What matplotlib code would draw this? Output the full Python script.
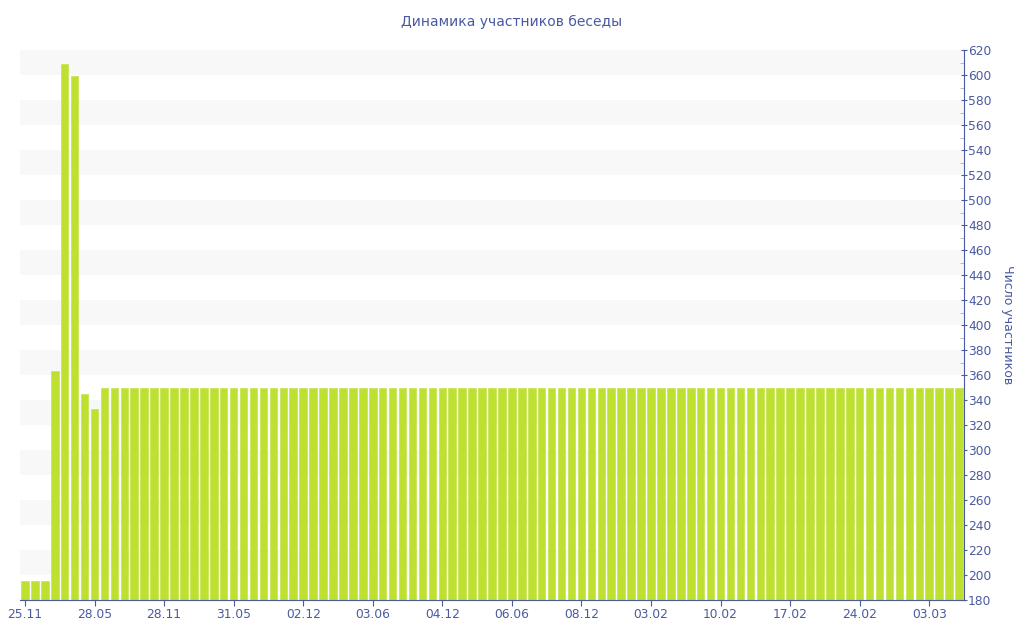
import matplotlib.pyplot as plt
from matplotlib.ticker import MultipleLocator

# participants per day (95 bars)
members = [195, 195, 195, 363, 609, 599, 345, 333] + [350] * 87
tick_labels = ["25.11", "28.05", "28.11", "31.05", "02.12", "03.06", "04.12",
               "06.06", "08.12", "03.02", "10.02", "17.02", "24.02", "03.03"]
tick_step = 7

blue = "#4a5aa0"
bar_color = "#bde031"

fig = plt.figure(figsize=(10.24, 6.4), dpi=100)
ax = fig.add_axes([20 / 1024, 40 / 640, 944 / 1024, 550 / 640])

# alternating light bands
for lo in range(200, 620, 40):
    ax.axhspan(lo, lo + 20, color="#f8f8f8", zorder=0, lw=0)

x = list(range(len(members)))
ax.bar(x, members, width=0.76, color=bar_color, edgecolor="#c8e65a",
       linewidth=0.6, zorder=2)

ax.set_xlim(-0.5, len(members) - 0.5)
ax.set_ylim(180, 620)

ax.set_xticks([i * tick_step for i in range(len(tick_labels))])
ax.set_xticklabels(tick_labels)

ax.yaxis.tick_right()
ax.yaxis.set_label_position("right")
ax.yaxis.set_major_locator(MultipleLocator(20))
ax.yaxis.set_minor_locator(MultipleLocator(10))
ax.set_ylabel("Число участников", color=blue, fontsize=9, rotation=-90,
              labelpad=16)

for side in ["top", "left"]:
    ax.spines[side].set_visible(False)
ax.spines["right"].set_color(blue)
ax.spines["bottom"].set_color(blue)

ax.tick_params(axis="x", colors=blue, labelsize=8.8, length=4, pad=2)
ax.tick_params(axis="y", which="major", colors=blue, labelsize=8.8,
               length=4, pad=1, direction="inout")
ax.tick_params(axis="y", which="minor", color="#b0b0b0", length=3,
               direction="in")

fig.text(0.5, 1 - 22 / 640, "Динамика участников беседы", ha="center",
         va="center", color=blue, fontsize=10)

plt.savefig("out.png", dpi=100)
